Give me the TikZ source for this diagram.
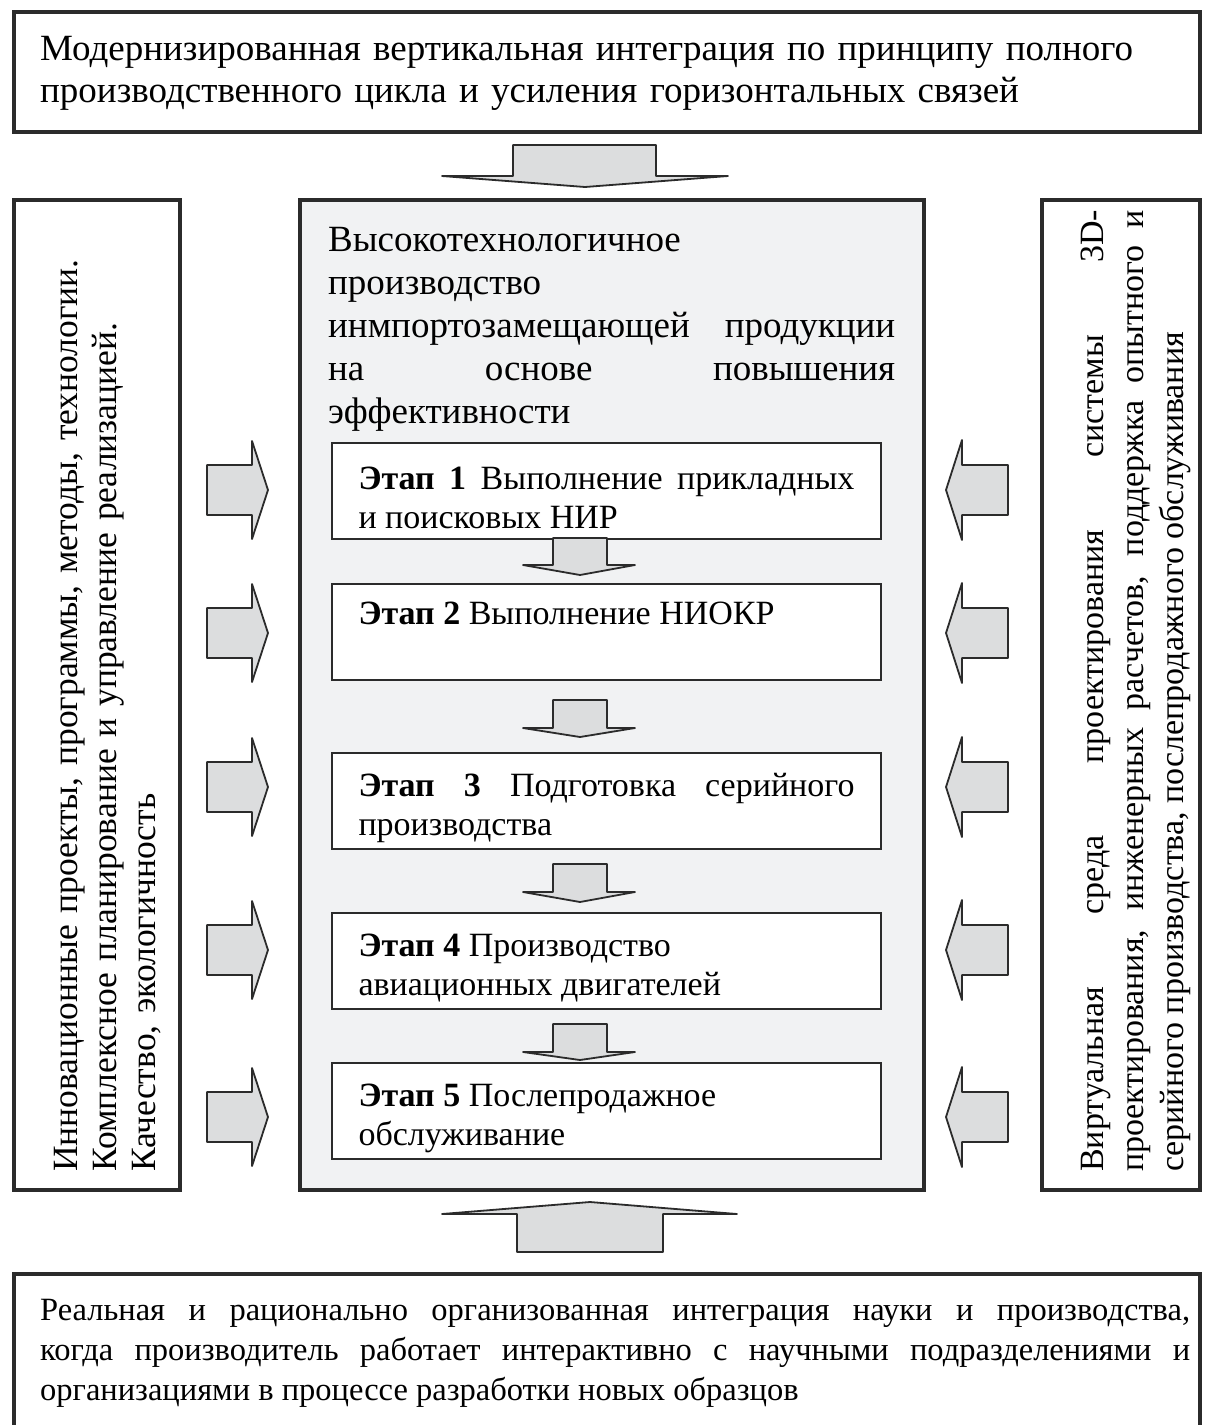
\documentclass[tikz,border=0pt]{standalone}
\usepackage{fontspec}
\setmainfont{Liberation Serif}
\usetikzlibrary{positioning,calc}

\definecolor{panelgray}{HTML}{F1F2F3}
\definecolor{arrowgray}{HTML}{DCDDDE}
\definecolor{edgegray}{HTML}{2B2B2B}

\tikzset{
  frame/.style={draw=edgegray, line width=3.5pt, anchor=north west, inner sep=0pt},
  stagebox/.style={draw=edgegray, line width=2pt, fill=white, anchor=north west,
    minimum width=549pt, minimum height=96pt, text width=496pt, inner xsep=26.5pt,
    align=justify, font=\fontsize{34}{39}\selectfont,
    execute at end node={\par\vspace*{-14pt}}},
  plaintext/.style={anchor=north west, inner sep=0pt},
  blockarrow/.style={draw=edgegray, line width=1.8pt, fill=arrowgray, line join=round},
}

\begin{document}
\begin{tikzpicture}[x=1pt, y=-1pt]
  \useasboundingbox (0,0) rectangle (1213,1425);
  \hyphenpenalty=10000

  % outer frames
  \node[frame, minimum width=1186pt, minimum height=120pt] (top) at (12,10) {};
  \node[frame, minimum width=166pt, minimum height=990pt] (left) at (12,198) {};
  \node[frame, fill=panelgray, minimum width=624pt, minimum height=990pt] (main) at (298,198) {};
  \node[frame, minimum width=158pt, minimum height=990pt] (right) at (1040,198) {};
  \node[frame, minimum width=1186pt, minimum height=200pt] (bottom) at (12,1272) {};

  % texts of the frames
  \node[plaintext, text width=1150pt, align=left, font=\fontsize{37}{42}\selectfont]
    (toptxt) at (40,36) {Модернизированная вертикальная интеграция по принципу полного\\
    производственного цикла и усиления горизонтальных связей};
  \node[plaintext, text width=567pt, align=justify, font=\fontsize{37}{43}\selectfont]
    (maintxt) at (328,227) {Высокотехнологичное\newline производство\newline
    инмпортозамещающей продукции\linebreak на основе повышения\linebreak эффективности};
  \node[plaintext, text width=1150pt, align=justify, font=\fontsize{32.5}{40}\selectfont]
    (bottomtxt) at (40,1299) {Реальная и рационально организованная интеграция науки и производства,\linebreak
    когда производитель работает интерактивно с научными подразделениями и\linebreak
    организациями в процессе разработки новых образцов};
  \node[plaintext, rotate=90, text width=960pt, align=left, font=\fontsize{35.5}{39}\selectfont]
    (lefttxt) at (54,1172) {Инновационные проекты, программы, методы, технологии.\\
    Комплексное планирование и управление реализацией.\\ Качество, экологичность};
  \node[plaintext, rotate=90, text width=962pt, align=justify, font=\fontsize{34}{40}\selectfont]
    (righttxt) at (1081,1172) {Виртуальная среда проектирования системы 3D-\linebreak
    проектирования, инженерных расчетов, поддержка опытного и\linebreak
    серийного производства, послепродажного обслуживания};

  % stages
  \node[stagebox] (s1) at (331,442) {\textbf{Этап 1} Выполнение прикладных\linebreak и поисковых НИР};
  \node[stagebox] (s2) at (331,583) {\textbf{Этап 2} Выполнение НИОКР\newline\strut};
  \node[stagebox] (s3) at (331,752) {\textbf{Этап 3} Подготовка серийного\linebreak производства};
  \node[stagebox] (s4) at (331,912) {\textbf{Этап 4} Производство\newline авиационных двигателей};
  \node[stagebox] (s5) at (331,1062) {\textbf{Этап 5} Послепродажное\newline обслуживание};

  % arrows between the stages
  \foreach \t/\b/\p in {538/565/575, 700/728/737, 864/892/902, 1024/1052/1060}
    \draw[blockarrow] (553,\t) -- (553,\b) -- (523,\b) -- (580,\p) -- (635,\b)
      -- (607,\b) -- (607,\t) -- cycle;

  % big arrows top and bottom
  \draw[blockarrow] (513,145) -- (656,145) -- (656,176) -- (728,176) -- (585,187)
    -- (442,176) -- (513,176) -- cycle;
  \draw[blockarrow] (517,1252) -- (663,1252) -- (663,1214) -- (737,1214) -- (590,1202)
    -- (442,1214) -- (517,1214) -- cycle;

  % side arrows
  \foreach \c in {490,633,787,950,1117} {
    \draw[blockarrow] (207,\c-25) -- (252,\c-25) -- (252,\c-49) -- (268,\c)
      -- (252,\c+49) -- (252,\c+25) -- (207,\c+25) -- cycle;
    \draw[blockarrow] (1008,\c-25) -- (962,\c-25) -- (962,\c-50) -- (946,\c)
      -- (962,\c+50) -- (962,\c+25) -- (1008,\c+25) -- cycle;
  }
\end{tikzpicture}
\end{document}
